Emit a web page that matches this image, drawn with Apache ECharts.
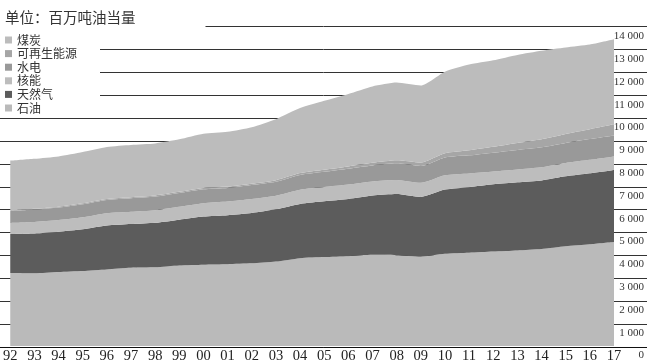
<!DOCTYPE html>
<html><head><meta charset="utf-8">
<script src="https://cdn.jsdelivr.net/npm/echarts@6/dist/echarts.min.js"></script>
<style>html,body{margin:0;padding:0;background:#fff}#c{width:647px;height:364px}</style>
</head><body><div id="c"></div>
<script>
const years = ['92','93','94','95','96','97','98','99','00','01','02','03','04','05','06','07','08','09','10','11','12','13','14','15','16','17'];
const oil =     [3196,3186,3241,3285,3359,3434,3452,3529,3566,3587,3624,3701,3851,3898,3938,3996,3983,3918,4040,4085,4138,4185,4250,4370,4460,4560];
const gas =     [1720,1750,1770,1830,1920,1910,1950,2010,2110,2150,2210,2290,2380,2450,2510,2600,2680,2620,2820,2880,2950,2990,3010,3070,3110,3156];
const nuclear = [480,500,510,530,545,545,555,570,585,600,610,600,625,627,635,622,620,615,626,600,560,563,575,583,591,596];
const hydro =   [515,545,550,570,580,590,595,600,610,595,610,610,645,665,690,700,725,735,780,795,830,860,880,883,910,919];
const renew =   [35,37,39,41,43,46,48,51,54,57,63,69,79,89,100,114,133,155,184,220,260,305,349,391,434,487];
const coal =    [2180,2190,2200,2250,2280,2290,2280,2300,2380,2400,2470,2670,2850,3020,3180,3350,3410,3380,3580,3760,3790,3860,3880,3790,3710,3730];
const yTickLabels = ['0','1 000','2 000','3 000','4 000','5 000','6 000','7 000','8 000','9 000','10 000','11 000','12 000','13 000','14 000'];
const seriesNames = ['石油','天然气','核能','水电','可再生能源','煤炭'];
const legendOrder = ['煤炭','可再生能源','水电','核能','天然气','石油'];
const colors = ['#bababa','#5c5c5c','#bdbdbd','#999999','#a6a6a6','#bcbcbc'];
const dataSets = [oil, gas, nuclear, hydro, renew, coal];

const serif = '"Liberation Serif", "DejaVu Serif", serif';
const cjk = '"Noto Sans CJK SC", "Noto Sans", sans-serif';
const chart = echarts.init(document.getElementById('c'), null, {renderer:'canvas'});
const TOP = 26.7, BOTTOM = 17;
chart.setOption({
  animation: false,
  backgroundColor: '#fff',
  title: {
    text: '单位：百万吨油当量', left: 0, top: 0,
    padding: [10, 70, 6, 5], backgroundColor: '#fff',
    textStyle: {fontFamily: cjk, fontSize: 14.5, fontWeight: 'normal', color: '#333'}
  },
  legend: {
    data: legendOrder, orient: 'vertical', left: 0, top: 32,
    padding: [2, 23, 2, 5], backgroundColor: '#fff',
    icon: 'rect', itemWidth: 7, itemHeight: 7, itemGap: 1.6,
    textStyle: {fontFamily: cjk, fontSize: 12, lineHeight: 12, color: '#333'}
  },
  grid: [
    {left: 0, right: 0, top: TOP, bottom: BOTTOM},
    {left: 5, right: 31, top: TOP, bottom: BOTTOM}
  ],
  xAxis: [
    {gridIndex: 0, type: 'value', min: 0, max: 1, z: 10,
     axisLine: {show: true, lineStyle: {color: '#111', width: 1}},
     axisTick: {show: false}, axisLabel: {show: false}, splitLine: {show: false}},
    {gridIndex: 1, type: 'category', data: years, boundaryGap: false,
     axisLine: {show: false}, axisTick: {show: false},
     axisLabel: {fontFamily: serif, fontSize: 14.5, color: '#222', margin: 3, interval: 0}}
  ],
  yAxis: [
    {gridIndex: 0, type: 'value', min: 0, max: 14000, interval: 1000,
     axisLine: {show: false}, axisTick: {show: false}, axisLabel: {show: false},
     splitLine: {show: true, lineStyle: {color: '#333', width: 1}}},
    {gridIndex: 1, type: 'value', position: 'right', min: 0, max: 14000, interval: 1000, z: 5,
     axisLine: {show: false}, axisTick: {show: false}, splitLine: {show: false},
     axisLabel: {fontFamily: serif, fontSize: 11, color: '#333', align: 'right', margin: 30,
       verticalAlign: 'top', padding: [4, 0, 0, 0],
       formatter: v => yTickLabels[Math.round(v / 1000)]}}
  ],
  series: seriesNames.map((n, i) => ({
    name: n, type: 'line', xAxisIndex: 1, yAxisIndex: 1, stack: 'total',
    data: dataSets[i], smooth: 0.2, showSymbol: false, symbol: 'none',
    lineStyle: {width: 0}, itemStyle: {color: colors[i]},
    areaStyle: {color: colors[i], opacity: 1}
  }))
});
</script></body></html>
